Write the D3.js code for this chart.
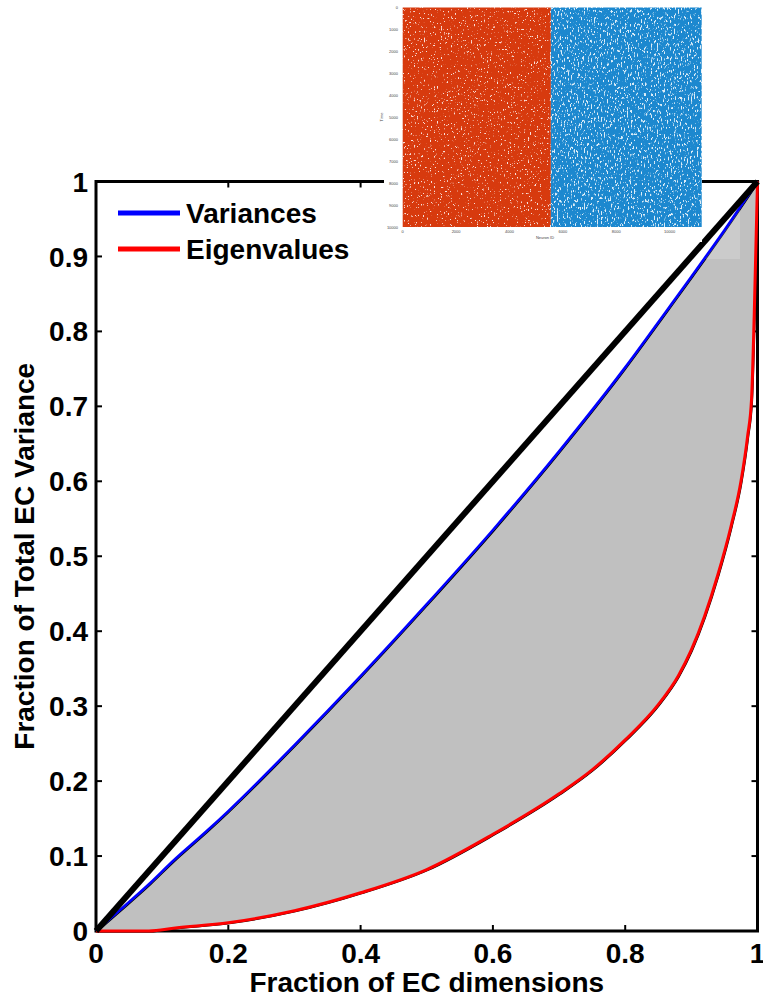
<!DOCTYPE html>
<html><head><meta charset="utf-8">
<script src="https://cdn.jsdelivr.net/npm/d3@7"></script>
<style>body{margin:0;background:#fff}svg{display:block}text{font-family:"Liberation Sans",Arial,sans-serif}</style>
</head><body>
<script>
// ---- data ----
const varX = [0, 0.031, 0.082, 0.116, 0.167, 0.2, 0.3, 0.4, 0.5, 0.6, 0.7, 0.8, 0.863, 0.9, 0.95, 1];
const varY = [0, 0.024, 0.064, 0.093, 0.133, 0.16, 0.248, 0.34, 0.436, 0.535, 0.64, 0.752, 0.828, 0.873, 0.935, 1];
const eigX = [0, 0.08, 0.12, 0.2, 0.3, 0.4, 0.5, 0.6, 0.7, 0.75, 0.8, 0.85, 0.88, 0.9, 0.92, 0.94, 0.96, 0.975, 0.985, 0.991, 0.995, 1];
const eigY = [0, 0, 0.004, 0.011, 0.027, 0.051, 0.082, 0.129, 0.183, 0.215, 0.255, 0.302, 0.34, 0.375, 0.42, 0.475, 0.54, 0.6, 0.66, 0.71, 0.82, 1];
const diagX = [0, 1];
const diagY = [0, 1];
const xTicks = [0, 0.2, 0.4, 0.6, 0.8, 1];
const yTicks = [0, 0.1, 0.2, 0.3, 0.4, 0.5, 0.6, 0.7, 0.8, 0.9, 1];
const legendLabels = ["Variances", "Eigenvalues"];
const xTitle = "Fraction of EC dimensions";
const yTitle = "Fraction of Total EC Variance";
// inset raster
const insetGroups = ["exc", "inh"];
const insetBounds = [0, 5550, 11200];
const insetXTicks = [0, 2000, 4000, 6000, 8000, 10000];
const insetYTicks = [0, 1000, 2000, 3000, 4000, 5000, 6000, 7000, 8000, 9000, 10000];

const W = 763, H = 1000;
const svg = d3.select("body").append("svg").attr("width", W).attr("height", H);
const defs = svg.append("defs");

const x = d3.scaleLinear().domain([0, 1]).range([96, 757.5]);
const y = d3.scaleLinear().domain([0, 1]).range([931, 181.5]);
const FS = 28;

const varPts = varX.map((v, i) => [v, varY[i]]);
const eigPts = eigX.map((v, i) => [v, eigY[i]]);
const line = d3.line().x(d => x(d[0])).y(d => y(d[1]));
const smooth = d3.line().x(d => x(d[0])).y(d => y(d[1])).curve(d3.curveMonotoneX);

// axes frame (box) with inward ticks
const ax = svg.append("g");
ax.append("rect").attr("x", x(0)).attr("y", y(1)).attr("width", x(1) - x(0)).attr("height", y(0) - y(1))
  .attr("fill", "none").attr("stroke", "#000").attr("stroke-width", 3);
const TL = 6;
yTicks.forEach(t => {
  ax.append("line").attr("x1", x(0)).attr("x2", x(0) + TL).attr("y1", y(t)).attr("y2", y(t)).attr("stroke", "#000").attr("stroke-width", 2);
  ax.append("line").attr("x1", x(1)).attr("x2", x(1) - TL).attr("y1", y(t)).attr("y2", y(t)).attr("stroke", "#000").attr("stroke-width", 2);
  ax.append("text").attr("x", 88).attr("y", y(t) + FS * 0.36).attr("text-anchor", "end")
    .attr("font-size", FS).attr("font-weight", "bold").text(d3.format("~g")(t));
});
xTicks.forEach(t => {
  ax.append("line").attr("x1", x(t)).attr("x2", x(t)).attr("y1", y(0)).attr("y2", y(0) - TL).attr("stroke", "#000").attr("stroke-width", 2);
  ax.append("line").attr("x1", x(t)).attr("x2", x(t)).attr("y1", y(1)).attr("y2", y(1) + TL).attr("stroke", "#000").attr("stroke-width", 2);
  ax.append("text").attr("x", x(t)).attr("y", 963).attr("text-anchor", "middle")
    .attr("font-size", FS).attr("font-weight", "bold").text(d3.format("~g")(t));
});
ax.append("text").attr("x", (x(0) + x(1)) / 2).attr("y", 992).attr("text-anchor", "middle")
  .attr("font-size", FS).attr("font-weight", "bold").text(xTitle);
ax.append("text").attr("transform", `translate(34,${(y(0) + y(1)) / 2}) rotate(-90)`).attr("text-anchor", "middle")
  .attr("font-size", FS).attr("font-weight", "bold").text(yTitle);

// shaded region between variances and eigenvalues
const fillPath = smooth(varPts) + "L" + smooth(eigPts.slice().reverse()).slice(1) + "Z";
svg.append("path").attr("d", fillPath).attr("transform", "translate(1,1)")
  .attr("fill", "#c0c0c0").attr("stroke", "#000").attr("stroke-width", 1.2);
// faint overlay box (inset frame remnant)
svg.append("rect").attr("x", 690).attr("y", 184).attr("width", 50).attr("height", 75)
  .attr("fill", "#fff").attr("opacity", 0.18);

svg.append("path").attr("d", smooth(varPts)).attr("fill", "none").attr("stroke", "#0000ff").attr("stroke-width", 2.6);
svg.append("path").attr("d", smooth(eigPts)).attr("fill", "none").attr("stroke", "#ff0000").attr("stroke-width", 3);
svg.append("path").attr("d", line(diagX.map((v, i) => [v, diagY[i]]))).attr("fill", "none")
  .attr("stroke", "#000").attr("stroke-width", 6);

// legend
const legColors = ["#0000ff", "#ff0000"];
legendLabels.forEach((lab, i) => {
  const ly = 213 + i * 36;
  svg.append("line").attr("x1", 118).attr("x2", 180).attr("y1", ly).attr("y2", ly)
    .attr("stroke", legColors[i]).attr("stroke-width", 5);
  svg.append("text").attr("x", 186).attr("y", ly + FS * 0.36).attr("font-size", FS)
    .attr("font-weight", "bold").text(lab);
});

// ---- inset raster picture ----
function speck(id, k, b, fx, fy, seed, blur) {
  const f = defs.append("filter").attr("id", id).attr("x", 0).attr("y", 0).attr("width", 1).attr("height", 1);
  f.append("feTurbulence").attr("type", "fractalNoise").attr("baseFrequency", fx + " " + fy)
    .attr("numOctaves", 2).attr("seed", seed);
  f.append("feColorMatrix").attr("type", "matrix")
    .attr("values", `0 0 0 0 1  0 0 0 0 1  0 0 0 0 1  ${k} 0 0 0 ${b}`);
  f.append("feGaussianBlur").attr("stdDeviation", blur);
}
speck("spR", 10, -6.5, 0.7, 0.45, 4, 0.5);
speck("spB", 10, -5.9, 0.7, 0.3, 9, 0.5);

const ix = d3.scaleLinear().domain([0, 11200]).range([402.7, 701.7]);
const iy = d3.scaleLinear().domain([0, 10000]).range([7.5, 227]);
const ins = svg.append("g");
ins.append("rect").attr("x", 384).attr("y", 0).attr("width", 318).attr("height", 242).attr("fill", "#fff");
const gCol = ["#d73a0e", "#1c88cf"];
insetGroups.forEach((g, i) => {
  ins.append("rect").attr("x", ix(insetBounds[i])).attr("y", iy(0))
    .attr("width", ix(insetBounds[i + 1]) - ix(insetBounds[i])).attr("height", iy(10000) - iy(0))
    .attr("fill", gCol[i]);
  ins.append("rect").attr("x", ix(insetBounds[i])).attr("y", iy(0))
    .attr("width", ix(insetBounds[i + 1]) - ix(insetBounds[i])).attr("height", iy(10000) - iy(0))
    .attr("fill", "#fff").attr("filter", `url(#${i === 0 ? "spR" : "spB"})`).attr("opacity", 0.85);
});
insetYTicks.forEach(t => {
  ins.append("text").attr("x", 398).attr("y", iy(t) + 1.5).attr("text-anchor", "end")
    .attr("font-size", 4).attr("fill", "#444").text(t);
});
insetXTicks.forEach(t => {
  ins.append("text").attr("x", ix(t)).attr("y", 233).attr("text-anchor", "middle")
    .attr("font-size", 4).attr("fill", "#444").text(t);
});
ins.append("text").attr("x", 545).attr("y", 239).attr("text-anchor", "middle")
  .attr("font-size", 4).attr("fill", "#444").text("Neuron ID");
ins.append("text").attr("transform", "translate(383,117) rotate(-90)").attr("text-anchor", "middle")
  .attr("font-size", 4).attr("fill", "#444").text("Time");
</script>
</body></html>
